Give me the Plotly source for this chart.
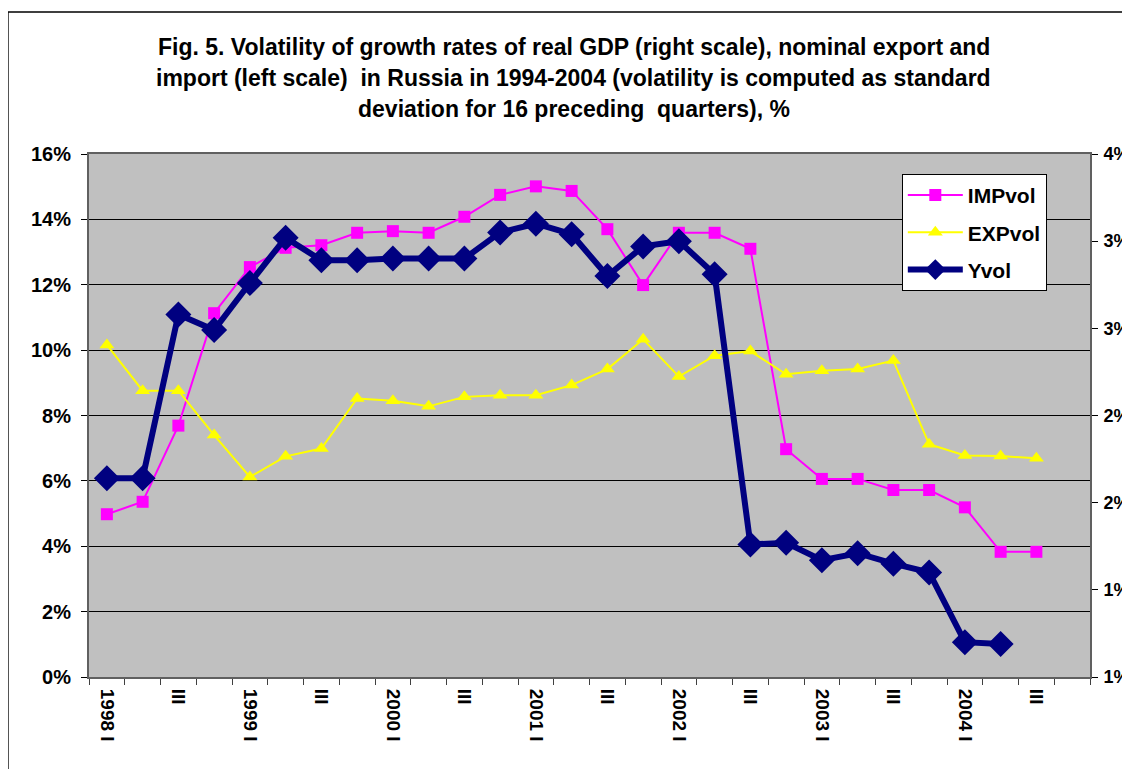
import plotly.graph_objects as go

# quarters 1998 I .. 2004 IV
quarters = [f"{y} {q}" for y in range(1998, 2005) for q in ["I", "II", "III", "IV"]]
quarter_labels = [f"{y} I" if q == "I" else ("III" if q == "III" else "")
                  for y in range(1998, 2005) for q in ["I", "II", "III", "IV"]]

# left scale, %
imp_vol = [4.98, 5.36, 7.69, 11.13, 12.54, 13.13, 13.21, 13.59, 13.64, 13.59,
           14.08, 14.75, 15.01, 14.87, 13.70, 11.99, 13.59, 13.59, 13.10, 6.97,
           6.06, 6.06, 5.72, 5.72, 5.19, 3.83, 3.83]
exp_vol = [10.16, 8.76, 8.76, 7.40, 6.12, 6.75, 6.99, 8.52, 8.45, 8.28,
           8.57, 8.62, 8.62, 8.93, 9.42, 10.33, 9.19, 9.83, 9.97, 9.26,
           9.37, 9.42, 9.68, 7.12, 6.78, 6.76, 6.69]
# right scale, %
y_vol = [1.64, 1.64, 2.58, 2.49, 2.76, 3.02, 2.89, 2.89, 2.90, 2.90,
         2.90, 3.05, 3.10, 3.04, 2.80, 2.97, 3.00, 2.81, 1.26, 1.27,
         1.17, 1.21, 1.15, 1.10, 0.70, 0.69]

left_ticks = [0, 2, 4, 6, 8, 10, 12, 14, 16]
left_labels = ["0%", "2%", "4%", "6%", "8%", "10%", "12%", "14%", "16%"]
right_ticks = [0.5, 1.0, 1.5, 2.0, 2.5, 3.0, 3.5]
right_labels = ["1%", "1%", "2%", "2%", "3%", "3%", "4%"]

FONT = "Liberation Sans, Arial, sans-serif"

fig = go.Figure()
fig.add_trace(go.Scatter(
    x=quarters[:len(imp_vol)], y=imp_vol, name="IMPvol", mode="lines+markers",
    line=dict(color="#FF00FF", width=2),
    marker=dict(symbol="square", size=12, color="#FF00FF"),
    legendgroup="a"))
fig.add_trace(go.Scatter(
    x=quarters[:len(exp_vol)], y=exp_vol, name="EXPvol", mode="lines+markers",
    line=dict(color="#FFFF00", width=2),
    marker=dict(symbol="triangle-up", size=13, color="#FFFF00"),
    legendgroup="b"))
fig.add_trace(go.Scatter(
    x=quarters[:len(y_vol)], y=y_vol, name="Yvol", mode="lines+markers",
    line=dict(color="#000080", width=6),
    marker=dict(symbol="diamond", size=20, color="#000080"),
    legendgroup="c", yaxis="y2"))

title_lines = [
    "Fig. 5. Volatility of growth rates of real GDP (right scale), nominal export and",
    "import (left scale)  in Russia in 1994-2004 (volatility is computed as standard",
    "deviation for 16 preceding  quarters), %",
]
for line, yp in zip(title_lines, [1.2046, 1.1453, 1.086]):
    fig.add_annotation(text=line, xref="paper", yref="paper", x=0.4845, y=yp,
                       showarrow=False, xanchor="center", yanchor="middle",
                       font=dict(family=FONT, size=23, color="black", weight="bold"))

# outer chart frame (right and bottom cut off)
fig.add_shape(type="rect", xref="paper", yref="paper",
              x0=-0.081, x1=1.06, y0=-0.25, y1=1.2715,
              line=dict(color="black", width=1.5), layer="below")

fig.update_layout(
    width=1122, height=761,
    margin=dict(l=81, r=40, t=146, b=92),
    paper_bgcolor="white", plot_bgcolor="#C0C0C0",
    font=dict(family=FONT, color="black"),
    showlegend=True,
    legend=dict(x=0.812, y=0.962, xanchor="left", yanchor="top",
                bgcolor="white", bordercolor="black", borderwidth=1,
                font=dict(family=FONT, size=21, weight="bold"),
                tracegroupgap=7, itemwidth=55),
    xaxis=dict(type="category", categoryorder="array", categoryarray=quarters,
               range=[-0.5, len(quarters) - 0.5], automargin=False,
               tickmode="array", tickvals=quarters, ticktext=quarter_labels,
               tickson="boundaries", ticks="outside", ticklen=6, tickcolor="#404040",
               tickangle=90, showgrid=False, zeroline=False,
               showline=True, linecolor="#606060", linewidth=2, mirror=True,
               ticklabelstandoff=6,
               tickfont=dict(family=FONT, size=19, weight="bold")),
    yaxis=dict(range=[0, 16], tickvals=left_ticks, ticktext=left_labels,
               automargin=False,
               ticks="outside", ticklen=6, tickcolor="black",
               showgrid=True, gridcolor="black", gridwidth=1, zeroline=False,
               showline=True, linecolor="#606060", linewidth=2,
               ticklabelstandoff=6,
               tickfont=dict(family=FONT, size=20, weight="bold")),
    yaxis2=dict(range=[0.5, 3.5], overlaying="y", side="right",
                tickvals=right_ticks, ticktext=right_labels, automargin=False,
                ticks="outside", ticklen=6, tickcolor="black",
                showgrid=False, zeroline=False,
                showline=True, linecolor="#606060", linewidth=2,
                ticklabelstandoff=2,
                tickfont=dict(family=FONT, size=18, weight="bold")),
)

fig.write_html("out.html")
